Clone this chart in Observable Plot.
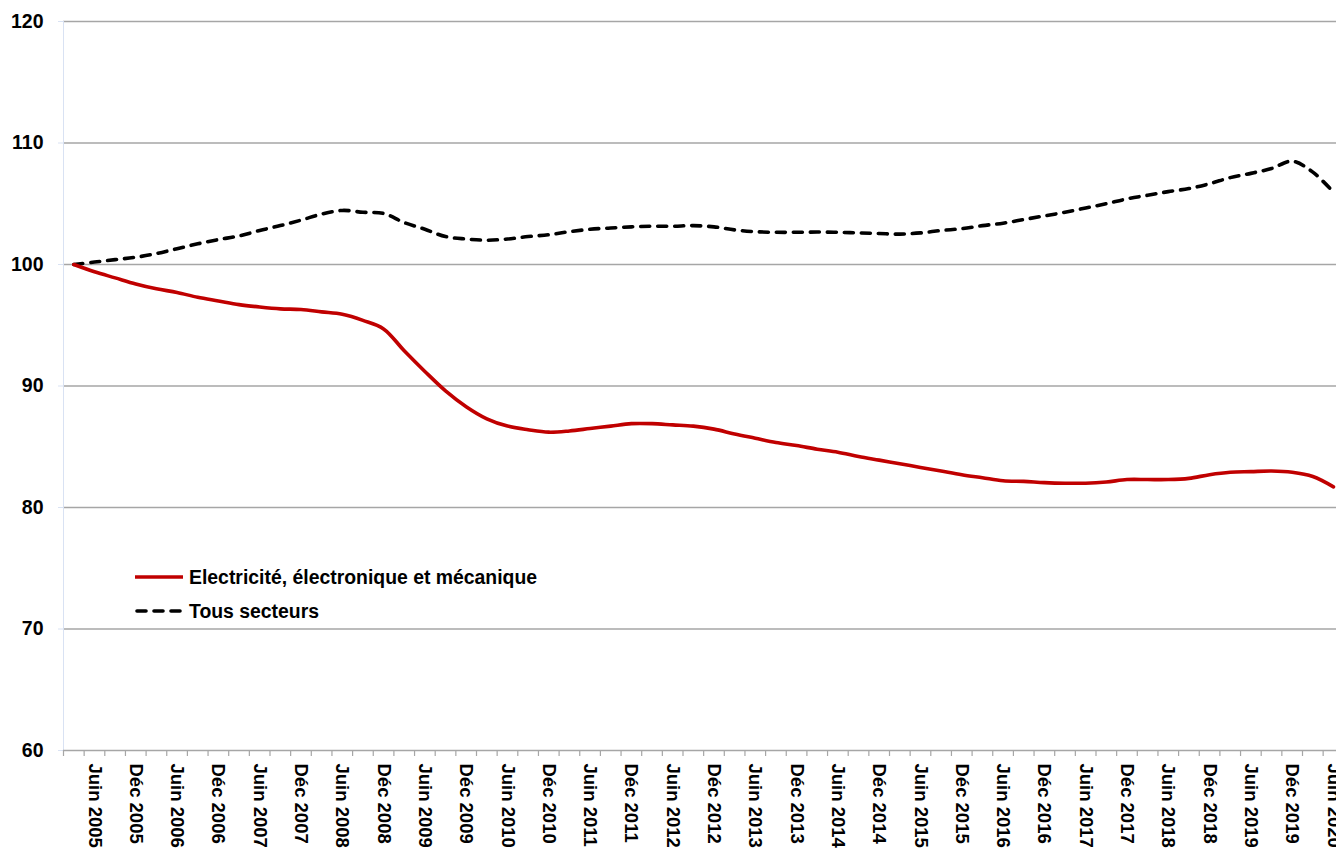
<!DOCTYPE html>
<html>
<head>
<meta charset="utf-8">
<script src="https://cdn.jsdelivr.net/npm/d3@7"></script>
<script src="https://cdn.jsdelivr.net/npm/@observablehq/plot@0.6"></script>
<style>
  html, body { margin: 0; padding: 0; background: #fff; overflow: hidden; }
  #wrap { position: relative; width: 1336px; height: 849px; }
  #legend { position: absolute; left: 135px; top: 560px; font-family: "Liberation Sans", Arial, sans-serif; font-weight: bold; font-size: 19.4px; color: #000; }
  #legend .row { display: flex; align-items: center; height: 34px; }
  #legend svg { display: block; margin-right: 4px; }
</style>
</head>
<body>
<div id="wrap">
  <div id="chart"></div>
  <div id="legend"></div>
</div>
<script>
// Quarterly categories (index 0 = first quarter of 2005)
const categories = [
  "Mars 2005","Juin 2005","Sept 2005","Déc 2005",
  "Mars 2006","Juin 2006","Sept 2006","Déc 2006",
  "Mars 2007","Juin 2007","Sept 2007","Déc 2007",
  "Mars 2008","Juin 2008","Sept 2008","Déc 2008",
  "Mars 2009","Juin 2009","Sept 2009","Déc 2009",
  "Mars 2010","Juin 2010","Sept 2010","Déc 2010",
  "Mars 2011","Juin 2011","Sept 2011","Déc 2011",
  "Mars 2012","Juin 2012","Sept 2012","Déc 2012",
  "Mars 2013","Juin 2013","Sept 2013","Déc 2013",
  "Mars 2014","Juin 2014","Sept 2014","Déc 2014",
  "Mars 2015","Juin 2015","Sept 2015","Déc 2015",
  "Mars 2016","Juin 2016","Sept 2016","Déc 2016",
  "Mars 2017","Juin 2017","Sept 2017","Déc 2017",
  "Mars 2018","Juin 2018","Sept 2018","Déc 2018",
  "Mars 2019","Juin 2019","Sept 2019","Déc 2019",
  "Mars 2020","Juin 2020"
];

// Tick labels shown on the axis
const tickLabels = [
  "Juin 2005","Déc 2005","Juin 2006","Déc 2006","Juin 2007","Déc 2007",
  "Juin 2008","Déc 2008","Juin 2009","Déc 2009","Juin 2010","Déc 2010",
  "Juin 2011","Déc 2011","Juin 2012","Déc 2012","Juin 2013","Déc 2013",
  "Juin 2014","Déc 2014","Juin 2015","Déc 2015","Juin 2016","Déc 2016",
  "Juin 2017","Déc 2017","Juin 2018","Déc 2018","Juin 2019","Déc 2019",
  "Juin 2020"
];

const seriesNames = ["Electricité, électronique et mécanique", "Tous secteurs"];

const electricite = [
  100.0, 99.4, 98.9, 98.4, 98.0, 97.7, 97.3, 97.0, 96.7, 96.5,
  96.35, 96.3, 96.1, 95.9, 95.4, 94.7, 92.9, 91.2, 89.6, 88.3,
  87.3, 86.7, 86.4, 86.2, 86.3, 86.5, 86.7, 86.9, 86.9, 86.8,
  86.7, 86.45, 86.05, 85.7, 85.35, 85.1, 84.8, 84.55, 84.2, 83.9,
  83.6, 83.3, 83.0, 82.7, 82.45, 82.2, 82.15, 82.05, 82.0, 82.0,
  82.1, 82.3, 82.3, 82.3, 82.4, 82.7, 82.9, 82.95, 83.0, 82.9,
  82.55, 81.7
];

const tousSecteurs = [
  100.0, 100.2, 100.4, 100.6, 100.9, 101.3, 101.7, 102.05, 102.35, 102.8,
  103.2, 103.65, 104.15, 104.45, 104.3, 104.2, 103.45, 102.9, 102.3, 102.1,
  102.0, 102.1, 102.3, 102.45, 102.7, 102.9, 103.0, 103.1, 103.15, 103.15,
  103.2, 103.1, 102.85, 102.7, 102.65, 102.65, 102.67, 102.65, 102.6, 102.55,
  102.5, 102.6, 102.8, 102.95, 103.2, 103.4, 103.7, 104.0, 104.3, 104.65,
  105.0, 105.4, 105.7, 106.0, 106.25, 106.65, 107.15, 107.5, 107.9, 108.5,
  107.6, 105.95
];

const yTicks = [60, 70, 80, 90, 100, 110, 120];

// Build table: category index i is centred at i + 0.5
const rowsE = categories.map((c, i) => ({x: i + 0.5, q: c, v: electricite[i]}));
const rowsT = categories.map((c, i) => ({x: i + 0.5, q: c, v: tousSecteurs[i]}));
const boundaries = categories.map((c, i) => i);
const labelPos = tickLabels.map(l => categories.indexOf(l) + 0.5);
const labelMap = new Map(labelPos.map((p, k) => [p, tickLabels[k]]));

const W = 1336, H = 849, ML = 63, MT = 21, MB = 99;
const catWidth = 20.65;
const xMax = (W - ML) / catWidth;

const font = '"Liberation Sans", Arial, sans-serif';

const chart = Plot.plot({
  width: W,
  height: H,
  marginLeft: ML,
  marginRight: 0,
  marginTop: MT,
  marginBottom: MB,
  style: {fontFamily: font, color: "#000", background: "#fff", overflow: "hidden"},
  x: {type: "linear", domain: [0, xMax], label: null},
  y: {domain: [60, 120], label: null},
  marks: [
    Plot.ruleY(yTicks.filter(d => d > 60), {stroke: "#a6a6a6", strokeWidth: 1.5}),
    Plot.ruleX([0], {y1: 60, y2: 120, stroke: "#d9e2f3", strokeWidth: 1}),
    Plot.axisY(yTicks, {label: null, tickSize: 5, tickFormat: () => "", stroke: "#d9e2f3"}),
    Plot.axisY(yTicks, {label: null, tickSize: 0, tickPadding: 20, fontSize: 19.5, fontWeight: "bold", fill: "#000"}),
    Plot.ruleY([60], {stroke: "#a6a6a6", strokeWidth: 1.5}),
    Plot.axisX(boundaries, {label: null, tickSize: 6, tickFormat: () => "", stroke: "#a6a6a6", strokeWidth: 1.2}),
    Plot.axisX(labelPos, {label: null, tickSize: 0, tickPadding: 13, tickRotate: 90, fontSize: 18.5, fontWeight: "bold", fill: "#000",
      tickFormat: d => labelMap.get(d)}),
    Plot.line(rowsT, {x: "x", y: "v", stroke: "#000", strokeWidth: 3.6, strokeDasharray: "9,8", strokeLinecap: "round", curve: "catmull-rom"}),
    Plot.line(rowsE, {x: "x", y: "v", stroke: "#C00000", strokeWidth: 3.6, curve: "catmull-rom"})
  ]
});
document.getElementById("chart").appendChild(chart);

// Legend
const legend = document.getElementById("legend");
const styles = [
  {stroke: "#C00000", dash: null},
  {stroke: "#000", dash: "9,8"}
];
seriesNames.forEach((name, k) => {
  const row = document.createElement("div");
  row.className = "row";
  const s = styles[k];
  row.innerHTML = `<svg width="50" height="10"><line x1="${s.dash ? 2 : 0}" y1="5" x2="${s.dash ? 46 : 48}" y2="5" stroke="${s.stroke}" stroke-width="3.6" ${s.dash ? `stroke-dasharray="${s.dash}" stroke-linecap="round"` : ""}/></svg><span>${name}</span>`;
  legend.appendChild(row);
});
</script>
</body>
</html>
